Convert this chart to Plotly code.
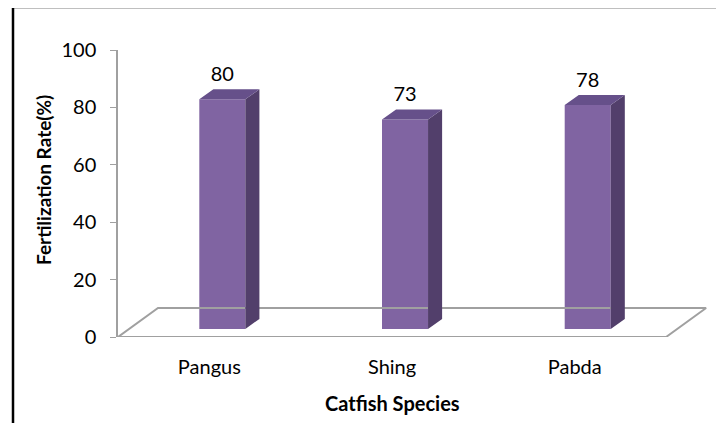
import plotly.graph_objects as go

species = ["Pangus", "Shing", "Pabda"]
fert_rate = [80, 73, 78]
y_ticks = [0, 20, 40, 60, 80, 100]

FONT = "Lato, Calibri, sans-serif"
FRONT = "#8064A2"
SIDE = "#523F6B"
TOP = "#66508A"

# fake 3D look (x in category units, y in value units)
BAR_W = 0.252
BAR_DX = 0.071      # bars stand a bit behind the front edge of the floor
BAR_BASE = 2.8
DEPTH_X = 0.077     # bar depth
DEPTH_Y = 3.5
FLOOR_X = 0.219     # floor depth
FLOOR_Y = 10.1

xs = [i + BAR_DX for i in range(len(species))]

fig = go.Figure()

# floor
n = len(species)
fig.add_trace(go.Scatter(
    x=[-0.5, n - 0.5, n - 0.5 + FLOOR_X, -0.5 + FLOOR_X, -0.5],
    y=[0, 0, FLOOR_Y, FLOOR_Y, 0],
    mode="lines", line=dict(color="#a0a0a0", width=2),
    hoverinfo="skip", showlegend=False
))

# front faces
fig.add_trace(go.Bar(
    x=xs, y=fert_rate, base=BAR_BASE, width=BAR_W,
    marker=dict(color=FRONT, line=dict(width=0)),
    showlegend=False
))

# side and top faces
side_x, side_y, top_x, top_y = [], [], [], []
for x, v in zip(xs, fert_rate):
    xl, xr = x - BAR_W / 2, x + BAR_W / 2
    b, t = BAR_BASE, BAR_BASE + v
    side_x += [xr, xr + DEPTH_X, xr + DEPTH_X, xr, xr, None]
    side_y += [b, b + DEPTH_Y, t + DEPTH_Y, t, b, None]
    top_x += [xl, xr, xr + DEPTH_X, xl + DEPTH_X, xl, None]
    top_y += [t, t, t + DEPTH_Y, t + DEPTH_Y, t, None]

fig.add_trace(go.Scatter(x=side_x, y=side_y, fill="toself", fillcolor=SIDE,
                         mode="lines", line=dict(width=0, color=SIDE),
                         hoverinfo="skip", showlegend=False))
fig.add_trace(go.Scatter(x=top_x, y=top_y, fill="toself", fillcolor=TOP,
                         mode="lines", line=dict(width=0, color=TOP),
                         hoverinfo="skip", showlegend=False))

# data labels
fig.add_trace(go.Scatter(
    x=xs, y=[BAR_BASE + v + 8 for v in fert_rate],
    mode="text", text=[str(v) for v in fert_rate],
    textposition="middle center",
    textfont=dict(family=FONT, size=20, color="black"),
    hoverinfo="skip", showlegend=False, cliponaxis=False
))

# page body has an 8px margin, so the figure is 8px smaller on each axis
fig.update_layout(
    width=716, height=415,
    margin=dict(l=110, r=14, t=42, b=86),
    paper_bgcolor="white", plot_bgcolor="white",
    font=dict(family=FONT, color="black"),
    xaxis=dict(
        range=[-0.5, -0.5 + 592 / 182.7],
        tickvals=list(range(n)), ticktext=species,
        showgrid=False, zeroline=False, showline=False, ticks="",
        tickfont=dict(size=20), ticklabelstandoff=16
    ),
    yaxis=dict(
        range=[0, 100], tickvals=y_ticks,
        showgrid=False, zeroline=False,
        showline=True, linecolor="#a0a0a0", linewidth=1.5,
        ticks="outside", ticklen=6, tickcolor="#a0a0a0",
        tickfont=dict(size=20), ticklabelstandoff=10
    ),
    annotations=[
        dict(text="<b>Fertilization Rate(%)</b>", xref="paper", yref="paper",
             x=(43 - 118) / 592, y=(337 - 180) / 287, textangle=-90,
             xanchor="center", yanchor="middle",
             showarrow=False, font=dict(size=19)),
        dict(text="<b>Catfish Species</b>", xref="paper", yref="paper",
             x=(392 - 118) / 592, y=(337 - 403) / 287,
             xanchor="center", yanchor="middle",
             showarrow=False, font=dict(size=20)),
    ],
    shapes=[
        dict(type="rect", xref="paper", yref="paper",
             x0=(13 - 118) / 592, x1=(718 - 118) / 592,
             y0=(337 - 440) / 287, y1=(337 - 7) / 287,
             line=dict(color="black", width=2.5), layer="below")
    ]
)

fig.write_html("out.html")
